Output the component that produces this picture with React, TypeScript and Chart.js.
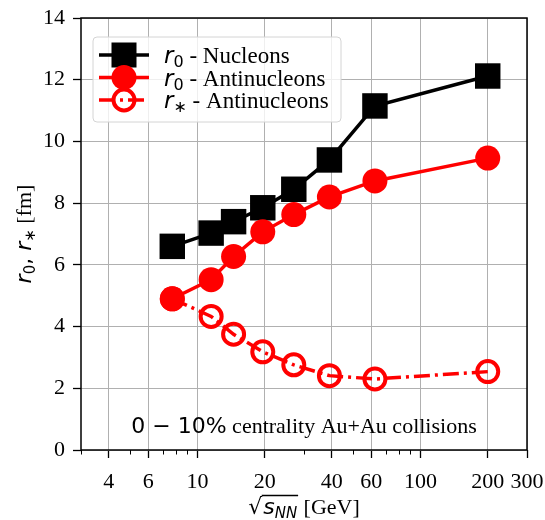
import React, { useEffect, useRef } from 'react';
import { Chart, registerables } from 'chart.js';

Chart.register(...registerables);

// ---- data ----
const energies = [7.7, 11.5, 14.5, 19.6, 27, 39, 62.4, 200];
const r0Nucleons = [6.6, 7.03, 7.4, 7.85, 8.45, 9.4, 11.15, 12.12];
const r0Antinucleons = [4.9, 5.52, 6.27, 7.07, 7.63, 8.2, 8.72, 9.46];
const rStarAntinucleons = [4.9, 4.33, 3.75, 3.18, 2.76, 2.41, 2.3, 2.54];
const xTicks = [4, 6, 10, 20, 40, 60, 100, 200, 300];
const xMinorTicks = [3, 5, 7, 8, 9, 30, 50, 70, 80, 90];
const yTicks = [0, 2, 4, 6, 8, 10, 12, 14];

const SERIF = '"Liberation Serif", "Times New Roman", serif';
const SANS = '"DejaVu Sans", sans-serif';
const LFS = 23; // legend
const AFS = 22; // annotation / titles

type Run = { t: string; font: string; dy?: number };

function runsWidth(ctx: CanvasRenderingContext2D, runs: Run[]) {
  let w = 0;
  for (const r of runs) {
    ctx.font = r.font;
    w += ctx.measureText(r.t).width;
  }
  return w;
}

function drawRuns(ctx: CanvasRenderingContext2D, runs: Run[], x: number, y: number) {
  ctx.textBaseline = 'alphabetic';
  ctx.textAlign = 'left';
  for (const r of runs) {
    ctx.font = r.font;
    ctx.fillText(r.t, x, y + (r.dy || 0));
    x += ctx.measureText(r.t).width;
  }
  return x;
}

const lItR = `italic ${LFS}px ${SANS}`;
const lSubF = `${Math.round(LFS * 0.7)}px ${SANS}`;
const lSerif = `${LFS}px ${SERIF}`;

const legendItems = [
  { kind: 'square', color: '#000000', dash: [] as number[], runs: [{ t: 'r', font: lItR }, { t: '0', font: lSubF, dy: 4 }, { t: ' - Nucleons', font: lSerif }] },
  { kind: 'circle', color: '#ff0000', dash: [] as number[], runs: [{ t: 'r', font: lItR }, { t: '0', font: lSubF, dy: 4 }, { t: ' - Antinucleons', font: lSerif }] },
  { kind: 'open', color: '#ff0000', dash: [16, 5, 3, 5], runs: [{ t: 'r', font: lItR }, { t: '\u2217', font: lSubF, dy: 4 }, { t: ' - Antinucleons', font: lSerif }] },
];

function roundRect(ctx: CanvasRenderingContext2D, x: number, y: number, w: number, h: number, r: number) {
  ctx.beginPath();
  ctx.moveTo(x + r, y);
  ctx.lineTo(x + w - r, y);
  ctx.arcTo(x + w, y, x + w, y + r, r);
  ctx.lineTo(x + w, y + h - r);
  ctx.arcTo(x + w, y + h, x + w - r, y + h, r);
  ctx.lineTo(x + r, y + h);
  ctx.arcTo(x, y + h, x, y + h - r, r);
  ctx.lineTo(x, y + r);
  ctx.arcTo(x, y, x + r, y, r);
  ctx.closePath();
}

const decorPlugin = {
  id: 'decor',
  afterDraw(chart: any) {
    const ctx: CanvasRenderingContext2D = chart.ctx;
    const ca = chart.chartArea;
    const xs = chart.scales.x;
    ctx.save();

    // minor ticks on x axis
    ctx.strokeStyle = '#000';
    ctx.lineWidth = 1;
    for (const v of xMinorTicks) {
      const px = Math.round(xs.getPixelForValue(v)) + 0.5;
      ctx.beginPath();
      ctx.moveTo(px, ca.bottom);
      ctx.lineTo(px, ca.bottom + 4.5);
      ctx.stroke();
    }

    // frame
    ctx.lineWidth = 1.5;
    ctx.strokeRect(ca.left, ca.top, ca.right - ca.left, ca.bottom - ca.top);

    // annotation
    ctx.fillStyle = '#000';
    const ann: Run[] = [
      { t: '0 \u2212 10%', font: `${AFS}px ${SANS}` },
      { t: ' centrality Au+Au collisions', font: `${AFS}px ${SERIF}` },
    ];
    const cx = (ca.left + ca.right) / 2;
    const aw = runsWidth(ctx, ann);
    drawRuns(ctx, ann, cx - aw / 2, 433);

    // legend
    const lx = 93, ly = 37, lw = 248, lh = 85;
    ctx.fillStyle = 'rgba(255,255,255,0.8)';
    roundRect(ctx, lx, ly, lw, lh, 4);
    ctx.fill();
    ctx.strokeStyle = '#d4d4d4';
    ctx.lineWidth = 1;
    ctx.stroke();
    const rowY = [55, 77.5, 100];
    legendItems.forEach((it, i) => {
      const y = rowY[i];
      ctx.strokeStyle = it.color;
      ctx.lineWidth = 3.5;
      ctx.setLineDash(it.dash);
      ctx.beginPath();
      ctx.moveTo(99, y);
      ctx.lineTo(149, y);
      ctx.stroke();
      ctx.setLineDash([]);
      const mx = 124;
      if (it.kind === 'square') {
        ctx.fillStyle = it.color;
        ctx.fillRect(mx - 12.5, y - 12.5, 25, 25);
      } else if (it.kind === 'circle') {
        ctx.fillStyle = it.color;
        ctx.beginPath();
        ctx.arc(mx, y, 12.5, 0, Math.PI * 2);
        ctx.fill();
      } else {
        ctx.lineWidth = 4;
        ctx.beginPath();
        ctx.arc(mx, y, 10.5, 0, Math.PI * 2);
        ctx.stroke();
      }
      ctx.fillStyle = '#000';
      drawRuns(ctx, it.runs as Run[], 164, y + 8);
    });

    // x title
    ctx.fillStyle = '#000';
    ctx.strokeStyle = '#000';
    const rad = '\u221A';
    const radF = `${AFS}px ${SANS}`;
    const sF = `italic ${AFS}px ${SANS}`;
    const nnF = `italic ${Math.round(AFS * 0.7)}px ${SANS}`;
    ctx.font = radF;
    const radW = ctx.measureText(rad).width;
    const inner: Run[] = [
      { t: 's', font: sF },
      { t: 'NN', font: nnF, dy: 4 },
    ];
    const innerW = runsWidth(ctx, inner) + 2;
    const tail: Run[] = [{ t: ' [GeV]', font: `${AFS}px ${SERIF}` }];
    const tailW = runsWidth(ctx, tail);
    const totalW = radW + innerW + tailW;
    let x0 = cx - totalW / 2;
    const by = 514;
    ctx.font = radF;
    ctx.textBaseline = 'alphabetic';
    ctx.fillText(rad, x0, by);
    x0 += radW;
    ctx.lineWidth = 1.3;
    ctx.beginPath();
    ctx.moveTo(x0 - 0.5, by - 18.5);
    ctx.lineTo(x0 + innerW, by - 18.5);
    ctx.stroke();
    drawRuns(ctx, inner, x0 + 1, by);
    drawRuns(ctx, tail, x0 + innerW, by);

    // y title
    const yItR = `italic ${AFS}px ${SANS}`;
    const ySub = `${Math.round(AFS * 0.7)}px ${SANS}`;
    const yt: Run[] = [
      { t: 'r', font: yItR },
      { t: '0', font: ySub, dy: 4 },
      { t: ', ', font: `${AFS}px ${SANS}` },
      { t: 'r', font: yItR },
      { t: '\u2217', font: ySub, dy: 4 },
      { t: ' [fm]', font: `${AFS}px ${SERIF}` },
    ];
    const yw = runsWidth(ctx, yt);
    const cy = (ca.top + ca.bottom) / 2;
    ctx.translate(31, cy);
    ctx.rotate(-Math.PI / 2);
    drawRuns(ctx, yt, -yw / 2, 0);

    ctx.restore();
  },
};

export default function App() {
  const ref = useRef<HTMLCanvasElement | null>(null);
  useEffect(() => {
    if (!ref.current) return;
    const mk = (arr: number[]) => energies.map((x, i) => ({ x, y: arr[i] }));
    const chart = new Chart(ref.current, {
      type: 'line',
      data: {
        datasets: [
          {
            label: 'r0 - Nucleons',
            data: mk(r0Nucleons),
            borderColor: '#000000',
            backgroundColor: '#000000',
            borderWidth: 3.5,
            pointStyle: 'rect',
            pointRadius: 18,
            pointBorderWidth: 0,
            pointBackgroundColor: '#000000',
            order: 2,
          },
          {
            label: 'r0 - Antinucleons',
            data: mk(r0Antinucleons),
            borderColor: '#ff0000',
            backgroundColor: '#ff0000',
            borderWidth: 3.5,
            pointStyle: 'circle',
            pointRadius: 12.5,
            pointBorderWidth: 0,
            pointBackgroundColor: '#ff0000',
            order: 1,
          },
          {
            label: 'r* - Antinucleons',
            data: mk(rStarAntinucleons),
            borderColor: '#ff0000',
            backgroundColor: 'rgba(0,0,0,0)',
            borderWidth: 3.5,
            borderDash: [16, 5, 3, 5],
            pointStyle: 'circle',
            pointRadius: 10.5,
            pointBorderWidth: 4,
            pointBorderColor: '#ff0000',
            pointBackgroundColor: 'rgba(0,0,0,0)',
            order: 0,
          },
        ] as any,
      },
      options: {
        animation: false,
        responsive: false,
        devicePixelRatio: 1,
        events: [],
        layout: { padding: { left: 0, top: 14, right: 18, bottom: 0 } },
        plugins: { legend: { display: false }, tooltip: { enabled: false }, title: { display: false } },
        scales: {
          x: {
            type: 'logarithmic',
            min: 3,
            max: 300,
            afterBuildTicks: (axis: any) => {
              axis.ticks = xTicks.map((v) => ({ value: v }));
            },
            afterFit: (s: any) => {
              s.height = 70;
              s.paddingLeft = 0;
              s.paddingRight = 0;
            },
            ticks: {
              autoSkip: false,
              maxRotation: 0,
              minRotation: 0,
              padding: 11,
              color: '#000',
              font: { family: SERIF, size: 22 },
              callback: (v: any) => String(v),
            },
            grid: { color: '#b0b0b0', lineWidth: 1, tickColor: '#000', tickLength: 8, tickWidth: 1.3 },
            border: { display: false },
          },
          y: {
            type: 'linear',
            min: 0,
            max: 14,
            afterBuildTicks: (axis: any) => {
              axis.ticks = yTicks.map((v) => ({ value: v }));
            },
            afterFit: (s: any) => {
              s.width = 81;
              s.paddingTop = 0;
              s.paddingBottom = 0;
            },
            ticks: {
              padding: 8,
              color: '#000',
              font: { family: SERIF, size: 22 },
              callback: (v: any) => String(v),
            },
            grid: { color: '#b0b0b0', lineWidth: 1, tickColor: '#000', tickLength: 8, tickWidth: 1.3 },
            border: { display: false },
          },
        },
      } as any,
      plugins: [decorPlugin],
    });
    return () => chart.destroy();
  }, []);
  return (
    <div style={{ position: 'absolute', left: 0, top: 0, width: 545, height: 520, background: '#fff' }}>
      <canvas ref={ref} width={545} height={520} style={{ display: 'block' }} />
    </div>
  );
}
